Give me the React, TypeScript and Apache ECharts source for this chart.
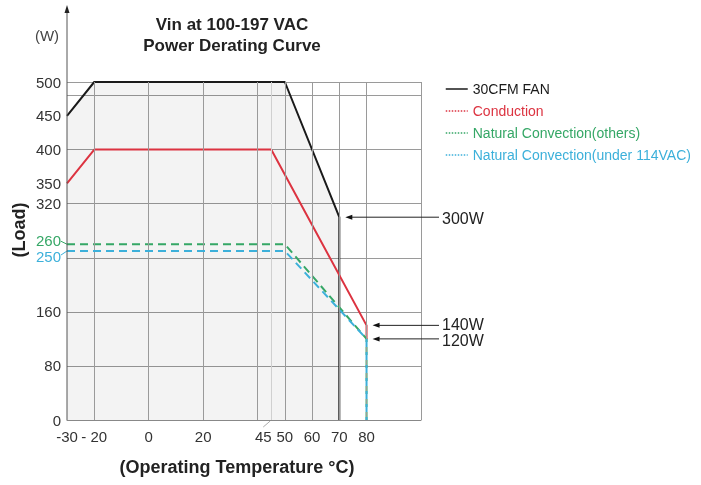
import React, { useEffect, useRef } from "react";
import * as echarts from "echarts";

// ---- data ----
const xTickLabels = [-30, -20, 0, 20, 45, 50, 60, 70, 80];
const yTickLabels = [0, 80, 160, 250, 260, 320, 350, 400, 450, 500];
const xGridLines = [-20, 0, 20, 40, 50, 60, 70, 80, 100];
const xFaintGridLines = [45];

const fanTemp = [-30, -20, 50, 70, 70];
const fanLoad = [450, 500, 500, 300, 0];
const condTemp = [-30, -20, 45, 80, 80];
const condLoad = [350, 400, 400, 140, 120];
const natOthersTemp = [-30, 50, 80, 80];
const natOthersLoad = [260, 260, 120, 0];
const natLowTemp = [-30, 50, 80, 80];
const natLowLoad = [250, 250, 120, 0];

const seriesNames = [
  "30CFM FAN",
  "Conduction",
  "Natural Convection(others)",
  "Natural Convection(under 114VAC)",
];
const colors = ["#1a1a1a", "#dc3340", "#35a766", "#3cb0da"];

const annotations = [
  { label: "300W", temp: 70, load: 300, dy: 1 },
  { label: "140W", temp: 80, load: 140, dy: -1 },
  { label: "120W", temp: 80, load: 120, dy: 2 },
];

const FONT = '"Liberation Sans", Arial, Helvetica, sans-serif';

const zip = (xs: number[], ys: number[]) => xs.map((x, i) => [x, ys[i]]);

export default function App() {
  const ref = useRef<HTMLDivElement>(null);
  useEffect(() => {
    if (!ref.current) return;
    const chart = echarts.init(ref.current, undefined, { renderer: "svg" });
    const option: any = {
      animation: false,
      textStyle: { fontFamily: FONT },
      grid: { left: 67, right: 280, top: 82, bottom: 65 },
      legend: {
        orient: "vertical",
        left: 440,
        top: 77,
        itemWidth: 22,
        itemHeight: 10,
        itemGap: 8,
        textStyle: { fontSize: 14, fontFamily: FONT },
        data: seriesNames.map((n, i) => ({
          name: n,
          textStyle: { color: colors[i] },
          itemStyle: { opacity: 0 },
          lineStyle:
            i === 0
              ? { type: "solid", width: 1.5, color: colors[i] }
              : { type: "dotted", width: 1.5, color: colors[i] },
        })),
      },
      xAxis: {
        type: "value",
        min: -30,
        max: 100,
        splitLine: { show: false },
        axisTick: { show: false },
        axisLine: { show: true, lineStyle: { color: "#888", width: 1 } },
        axisLabel: {
          customValues: xTickLabels,
          formatter: (v: number) =>
            v === -20 ? "- 20" : v === 45 ? "{l|45}" : String(v),
          fontSize: 15,
          color: "#333",
          margin: 9,
          rich: {
            l: { fontSize: 15, color: "#333", padding: [0, 16, 0, 0] },
          },
        },
      },
      yAxis: {
        type: "value",
        min: 0,
        max: 500,
        interval: 80,
        splitLine: { show: true, lineStyle: { color: "#9a9a9a", width: 1 } },
        axisLine: { show: false },
        axisTick: { show: false },
        axisLabel: {
          customValues: yTickLabels,
          fontSize: 15,
          color: "#333",
          margin: 6,
          formatter: (v: number) =>
            v === 260 ? "{g|260}" : v === 250 ? "{c|250}" : String(v),
          rich: {
            g: { color: colors[2], fontSize: 15, padding: [0, 0, 7, 0] },
            c: { color: colors[3], fontSize: 15, padding: [10, 0, 0, 0] },
          },
        },
      },
      series: [
        {
          type: "line",
          name: "__grid",
          data: [],
          z: 1,
          silent: true,
          markLine: {
            silent: true,
            symbol: ["none", "none"],
            label: { show: false },
            lineStyle: { color: "#9a9a9a", type: "solid", width: 1 },
            data: [
              ...xGridLines.map((v) => ({ xAxis: v })),
              ...xFaintGridLines.map((v) => ({
                xAxis: v,
                lineStyle: { color: "#d0d0d0", type: "solid", width: 1 },
              })),
            ],
          },
        },
        {
          type: "line",
          name: seriesNames[0],
          data: zip(fanTemp, fanLoad),
          symbol: "none",
          z: 2,
          lineStyle: { color: colors[0], width: 2 },
          itemStyle: { color: colors[0] },
          areaStyle: { color: "rgba(0,0,0,0.065)" },
        },
        {
          type: "line",
          name: seriesNames[1],
          data: zip(condTemp, condLoad),
          symbol: "none",
          z: 3,
          lineStyle: { color: colors[1], width: 2 },
          itemStyle: { color: colors[1] },
        },
        {
          type: "line",
          name: seriesNames[2],
          data: zip(natOthersTemp, natOthersLoad),
          symbol: "none",
          z: 4,
          lineStyle: { color: colors[2], width: 2, type: [8, 5] },
          itemStyle: { color: colors[2] },
        },
        {
          type: "line",
          name: seriesNames[3],
          data: zip(natLowTemp, natLowLoad),
          symbol: "none",
          z: 5,
          lineStyle: { color: colors[3], width: 2, type: [8, 5] },
          itemStyle: { color: colors[3] },
        },
      ],
    };
    chart.setOption(option);

    const p = (t: number, l: number) =>
      chart.convertToPixel({ gridIndex: 0 }, [t, l]) as number[];
    const origin = p(-30, 0);
    const rightEdge = p(100, 0)[0];
    const axisColor = "#555";
    const graphics: any[] = [
      {
        type: "text",
        x: 232,
        y: 14,
        style: {
          text: "Vin at 100-197 VAC\nPower Derating Curve",
          font: `bold 17px ${FONT}`,
          fill: "#222",
          textAlign: "center",
          lineHeight: 21,
        },
      },
      {
        type: "text",
        x: 47,
        y: 35,
        style: {
          text: "(W)",
          font: `15px ${FONT}`,
          fill: "#444",
          textAlign: "center",
          textVerticalAlign: "middle",
        },
      },
      {
        type: "text",
        x: 19,
        y: 230,
        rotation: Math.PI / 2,
        style: {
          text: "(Load)",
          font: `bold 18px ${FONT}`,
          fill: "#222",
          textAlign: "center",
          textVerticalAlign: "middle",
        },
      },
      {
        type: "text",
        x: 237,
        y: 467,
        style: {
          text: "(Operating Temperature °C)",
          font: `bold 18px ${FONT}`,
          fill: "#222",
          textAlign: "center",
          textVerticalAlign: "middle",
        },
      },
      {
        type: "line",
        shape: { x1: origin[0], y1: origin[1], x2: origin[0], y2: 12 },
        style: { stroke: axisColor, lineWidth: 1 },
        z: 10,
      },
      {
        type: "polygon",
        shape: {
          points: [
            [origin[0], 5],
            [origin[0] - 2.5, 13],
            [origin[0] + 2.5, 13],
          ],
        },
        style: { fill: "#222" },
        z: 10,
      },
    ];

    const p45 = p(45, 0);
    graphics.push({
      type: "line",
      shape: { x1: p45[0] - 8, y1: origin[1] + 7, x2: p45[0] - 1, y2: origin[1] + 1 },
      style: { stroke: "#aaa", lineWidth: 1 },
    });
    const p260 = p(-30, 260);
    const p250 = p(-30, 250);
    graphics.push({
      type: "line",
      shape: { x1: p260[0] - 6, y1: p260[1] - 3, x2: p260[0], y2: p260[1] },
      style: { stroke: colors[2], lineWidth: 1 },
    });
    graphics.push({
      type: "line",
      shape: { x1: p250[0] - 6, y1: p250[1] + 4, x2: p250[0], y2: p250[1] },
      style: { stroke: colors[3], lineWidth: 1 },
    });

    annotations.forEach((a) => {
      const pt = p(a.temp, a.load);
      const tipX = pt[0] + 6;
      const tailX = rightEdge + 18;
      const y = pt[1];
      graphics.push({
        type: "line",
        shape: { x1: tipX + 6, y1: y, x2: tailX, y2: y },
        style: { stroke: "#222", lineWidth: 1 },
        z: 10,
      });
      graphics.push({
        type: "polygon",
        shape: {
          points: [
            [tipX, y],
            [tipX + 7, y - 2.5],
            [tipX + 7, y + 2.5],
          ],
        },
        style: { fill: "#111" },
        z: 10,
      });
      graphics.push({
        type: "text",
        x: tailX + 3,
        y: y + a.dy,
        style: {
          text: a.label,
          font: `16px ${FONT}`,
          fill: "#222",
          textAlign: "left",
          textVerticalAlign: "middle",
        },
        z: 10,
      });
    });

    chart.setOption({ graphic: graphics });
    return () => chart.dispose();
  }, []);
  return (
    <div
      ref={ref}
      style={{ position: "fixed", left: 0, top: 0, width: 701, height: 485 }}
    />
  );
}
